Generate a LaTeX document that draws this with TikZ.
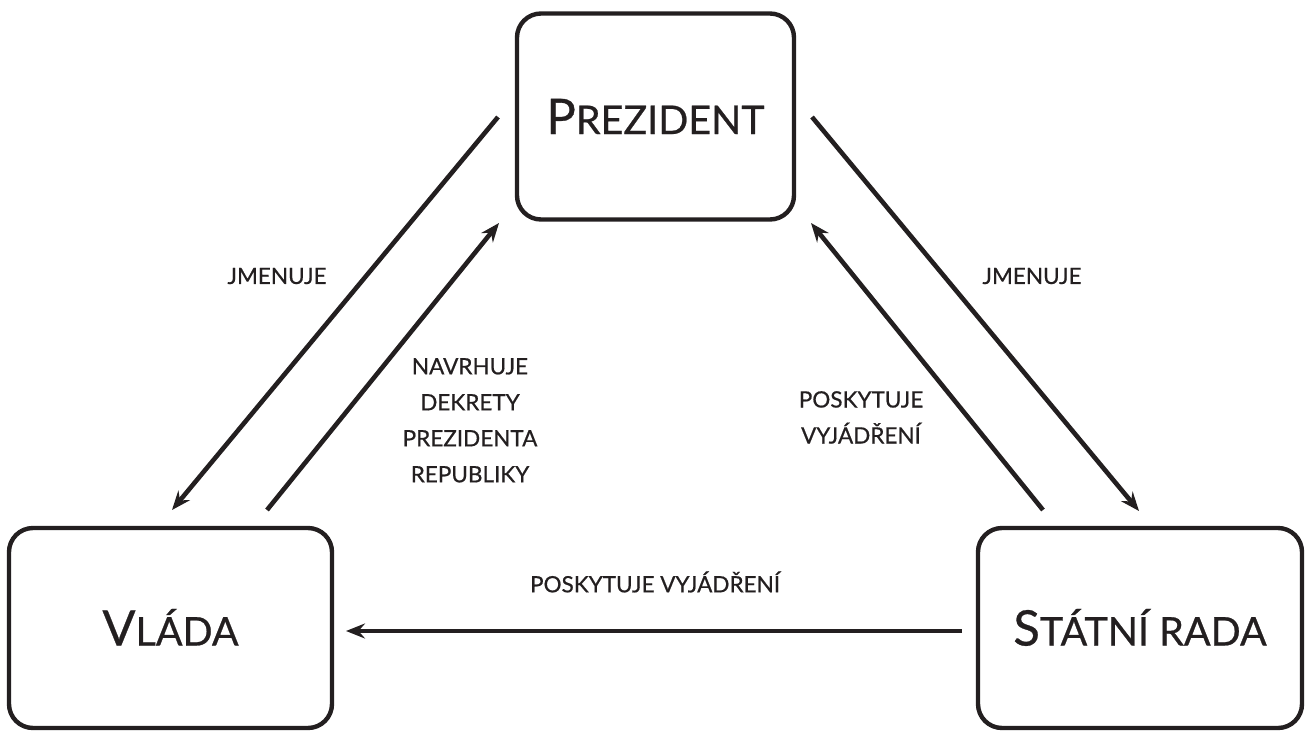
\documentclass[tikz,border=0pt]{standalone}
\usepackage{fontspec}
\setmainfont{Lato}[FakeBold=0.6,AutoFakeBold=0.6]
\usetikzlibrary{arrows.meta}
\definecolor{ink}{HTML}{231F20}
% big initial + smaller capitals
\newcommand\officename[2]{{\fontsize{49}{52}\selectfont #1}{\fontsize{39.5}{40}\selectfont #2}}
\tikzset{
  office/.style={draw=ink, line width=4.4pt, rounded corners=24pt, inner sep=0pt,
    text=ink, text height=35pt, text depth=0pt, font=\bfseries},
  arr/.style={draw=ink, line width=4.6pt, -{Stealth[length=19pt,width=15pt,inset=6.5pt]}},
  lbl/.style={text=ink, font=\fontsize{22.5}{36}\selectfont\bfseries, align=center, inner sep=0pt}
}
\begin{document}
\begin{tikzpicture}[x=1pt,y=-1pt]
\useasboundingbox (0,0) rectangle (1306,731);
% the three offices
\node[office, minimum width=277pt, minimum height=206pt] (prez) at (655.5,116.5) {\officename{P}{REZIDENT}};
\node[office, minimum width=323pt, minimum height=200pt] (vlada) at (170.5,628) {\officename{V}{LÁDA}};
\node[office, minimum width=324pt, minimum height=200pt] (rada) at (1140,628) {\officename{S}{TÁTNÍ RADA}};
% connector end points
\coordinate (a1) at (498,117);  \coordinate (a2) at (172,510);
\coordinate (b1) at (267,510);  \coordinate (b2) at (499,223);
\coordinate (c1) at (812,117);  \coordinate (c2) at (1139,511);
\coordinate (d1) at (1043,510); \coordinate (d2) at (811,223);
\coordinate (e1) at (962,631);  \coordinate (e2) at (346,631);
% connectors
\draw[arr] (a1) -- (a2);
\draw[arr] (b1) -- (b2);
\draw[arr] (c1) -- (c2);
\draw[arr] (d1) -- (d2);
\draw[arr] (e1) -- (e2);
% labels
\node[lbl] (l1) at (277,276) {JMENUJE};
\node[lbl, anchor=north] (l2) at (470,358) {NAVRHUJE\\DEKRETY\\PREZIDENTA\\REPUBLIKY};
\node[lbl] (l3) at (1032,276) {JMENUJE};
\node[lbl, anchor=north] (l4) at (861,391) {POSKYTUJE\\VYJÁDŘENÍ};
\node[lbl] (l5) at (655,582) {POSKYTUJE VYJÁDŘENÍ};
\end{tikzpicture}
\end{document}
